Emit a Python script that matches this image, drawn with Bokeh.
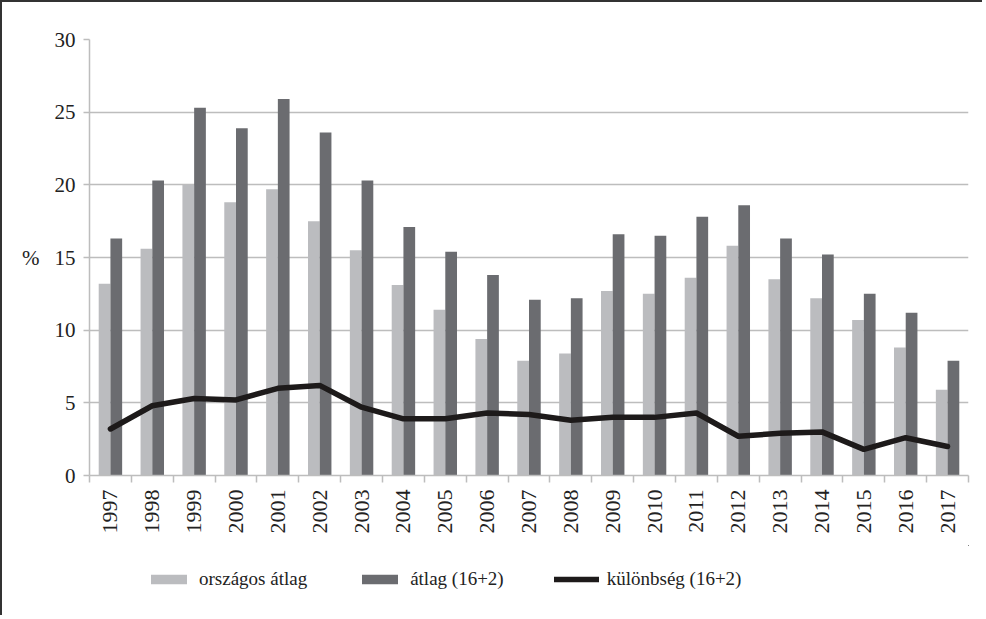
from bokeh.plotting import figure
from bokeh.layouts import column
from bokeh.models import (FixedTicker, Legend, LegendItem, ColumnDataSource)
from bokeh.embed import file_html
from bokeh.resources import INLINE
import math

years = ["1997", "1998", "1999", "2000", "2001", "2002", "2003", "2004", "2005", "2006", "2007",
         "2008", "2009", "2010", "2011", "2012", "2013", "2014", "2015", "2016", "2017"]
orszagos = [13.2, 15.6, 20.0, 18.8, 19.7, 17.5, 15.5, 13.1, 11.4, 9.4, 7.9,
            8.4, 12.7, 12.5, 13.6, 15.8, 13.5, 12.2, 10.7, 8.8, 5.9]
atlag = [16.3, 20.3, 25.3, 23.9, 25.9, 23.6, 20.3, 17.1, 15.4, 13.8, 12.1,
         12.2, 16.6, 16.5, 17.8, 18.6, 16.3, 15.2, 12.5, 11.2, 7.9]
kulonbseg = [3.2, 4.8, 5.3, 5.2, 6.0, 6.2, 4.7, 3.9, 3.9, 4.3, 4.2,
             3.8, 4.0, 4.0, 4.3, 2.7, 2.9, 3.0, 1.8, 2.6, 2.0]
y_ticks = [0, 5, 10, 15, 20, 25, 30]
series_names = ["országos átlag", "átlag (16+2)", "különbség (16+2)"]

FONT = "Liberation Serif"
LIGHT = "#bbbcbf"
DARK = "#6b6c70"
LINE = "#1d1a1a"
GRID = "#bdbdbd"
TEXT = "#222222"

idx = list(range(len(years)))
src = ColumnDataSource(dict(
    x=idx,
    x_l=[i - 0.14 for i in idx],
    x_d=[i + 0.14 for i in idx],
    orszagos=orszagos, atlag=atlag, kulonbseg=kulonbseg,
))

p = figure(frame_width=879, frame_height=436, output_backend="svg", toolbar_location=None,
           x_range=(-0.5, len(years) - 0.5), y_range=(0, 30),
           min_border_left=87, min_border_right=14, min_border_top=37, min_border_bottom=70)
p.outline_line_color = None
p.background_fill_color = "white"
p.border_fill_color = "white"

p.vbar(x="x_l", top="orszagos", width=0.28, source=src, fill_color=LIGHT, line_color=None)
p.vbar(x="x_d", top="atlag", width=0.28, source=src, fill_color=DARK, line_color=None)
p.line(x="x", y="kulonbseg", source=src, line_color=LINE, line_width=5.5,
       line_join="round", line_cap="round")

p.xgrid.grid_line_color = None
p.ygrid.grid_line_color = GRID
p.ygrid.grid_line_width = 1.5
p.ygrid.ticker = FixedTicker(ticks=y_ticks)

p.yaxis.ticker = FixedTicker(ticks=y_ticks)
p.yaxis.axis_line_color = GRID
p.yaxis.axis_line_width = 1.5
p.yaxis.major_tick_line_color = GRID
p.yaxis.major_tick_line_width = 1.5
p.yaxis.major_tick_out = 6
p.yaxis.major_tick_in = 0
p.yaxis.minor_tick_line_color = None
p.yaxis.major_label_text_font = FONT
p.yaxis.major_label_text_font_size = "21px"
p.yaxis.major_label_text_color = TEXT
p.yaxis.major_label_standoff = 8
p.yaxis.axis_label = "%"
p.yaxis.axis_label_orientation = "horizontal"
p.yaxis.axis_label_standoff = 12
p.yaxis.axis_label_text_font = FONT
p.yaxis.axis_label_text_font_size = "21px"
p.yaxis.axis_label_text_font_style = "normal"
p.yaxis.axis_label_text_color = TEXT

p.xaxis.ticker = FixedTicker(ticks=idx, minor_ticks=[i - 0.5 for i in range(len(years) + 1)])
p.xaxis.major_label_overrides = {i: y for i, y in zip(idx, years)}
p.xaxis.major_label_orientation = math.pi / 2
p.xaxis.axis_line_color = GRID
p.xaxis.axis_line_width = 1.5
p.xaxis.major_tick_line_color = None
p.xaxis.major_tick_out = 0
p.xaxis.major_tick_in = 0
p.xaxis.minor_tick_line_color = GRID
p.xaxis.minor_tick_line_width = 1.5
p.xaxis.minor_tick_out = 7
p.xaxis.minor_tick_in = 0
p.xaxis.major_label_text_font = FONT
p.xaxis.major_label_text_font_size = "22px"
p.xaxis.major_label_text_color = TEXT
p.xaxis.major_label_standoff = 7

# legend strip (separate figure so that it sits below the rotated year labels);
# its renderers use the same data but its ranges keep the marks out of view
lg = figure(width=980, height=70, output_backend="svg", toolbar_location=None,
            x_range=(-100, -99), y_range=(-100, -99), x_axis_type=None, y_axis_type=None,
            min_border=0)
lg.outline_line_color = None
lg.grid.grid_line_color = None
lg.background_fill_color = "white"
lg.border_fill_color = "white"
g1 = lg.vbar(x="x_l", top="orszagos", width=0.28, source=src, fill_color=LIGHT, line_color=None)
g2 = lg.vbar(x="x_d", top="atlag", width=0.28, source=src, fill_color=DARK, line_color=None)
g3 = lg.line(x="x", y="kulonbseg", source=src, line_color=LINE, line_width=5.5,
             line_cap="round")

legend = Legend(items=[LegendItem(label=series_names[0], renderers=[g1]),
                       LegendItem(label=series_names[1], renderers=[g2]),
                       LegendItem(label=series_names[2], renderers=[g3])],
                orientation="horizontal", location=(57, 25),
                label_text_font=FONT, label_text_font_size="19px", label_text_color=TEXT,
                glyph_width=45, glyph_height=12, label_standoff=8, spacing=50,
                border_line_color=None, background_fill_alpha=0, margin=0, padding=4)
lg.add_layout(legend)

layout = column(p, lg, spacing=0)
layout.styles = {"border-left": "2px solid #333333", "border-top": "2px solid #333333"}

open("out.html", "w").write(file_html(layout, INLINE))
